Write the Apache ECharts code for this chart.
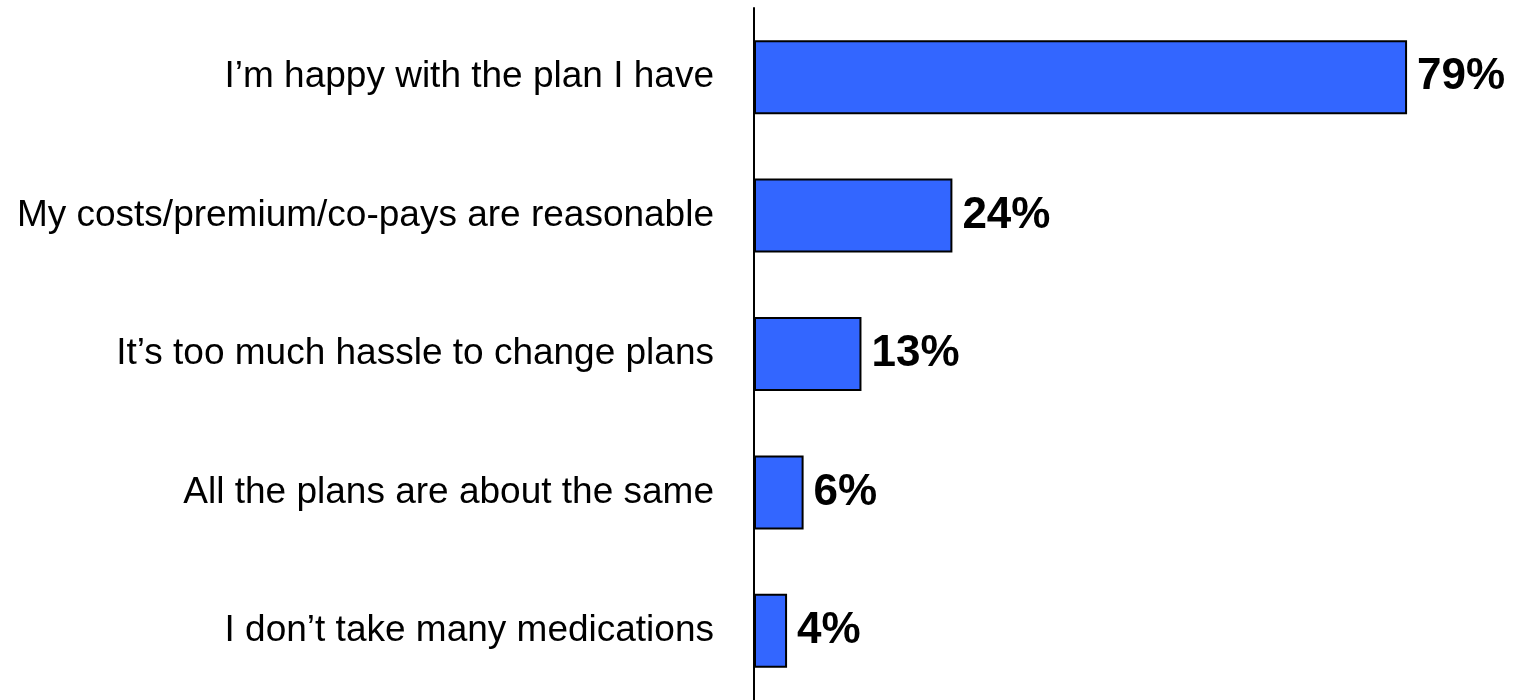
<!DOCTYPE html>
<html>
<head>
<meta charset="utf-8">
<script src="https://cdn.jsdelivr.net/npm/echarts@6/dist/echarts.min.js"></script>
<style>
html,body{margin:0;padding:0;background:#fff;}
#chart{width:1516px;height:700px;}
</style>
</head>
<body>
<div id="chart"></div>
<script>
const categories = [
  "I\u2019m happy with the plan I have",
  "My costs/premium/co-pays are reasonable",
  "It\u2019s too much hassle to change plans",
  "All the plans are about the same",
  "I don\u2019t take many medications"
];
const values = [79, 24, 13, 6, 4];

const chart = echarts.init(document.getElementById('chart'), null, {renderer: 'canvas'});
chart.setOption({
  animation: false,
  backgroundColor: '#ffffff',
  grid: {left: 754, top: 8, width: 744, height: 695, containLabel: false},
  xAxis: {
    type: 'value', min: 0, max: 90, show: false
  },
  yAxis: {
    type: 'category',
    data: categories,
    inverse: true,
    axisTick: {show: false},
    axisLine: {show: true, lineStyle: {color: '#000000', width: 2}},
    axisLabel: {
      margin: 40,
      color: '#000000',
      fontSize: 37,
      fontFamily: 'Arial, "Liberation Sans", sans-serif'
    }
  },
  series: [{
    type: 'bar',
    data: values,
    barWidth: 74,
    itemStyle: {color: '#3366FF', borderColor: '#000000', borderWidth: 2},
    label: {
      show: true,
      position: 'right',
      distance: 10,
      formatter: '{c}%',
      color: '#000000',
      fontWeight: 'bold',
      fontSize: 44,
      fontFamily: 'Arial, "Liberation Sans", sans-serif'
    }
  }]
});
</script>
</body>
</html>
